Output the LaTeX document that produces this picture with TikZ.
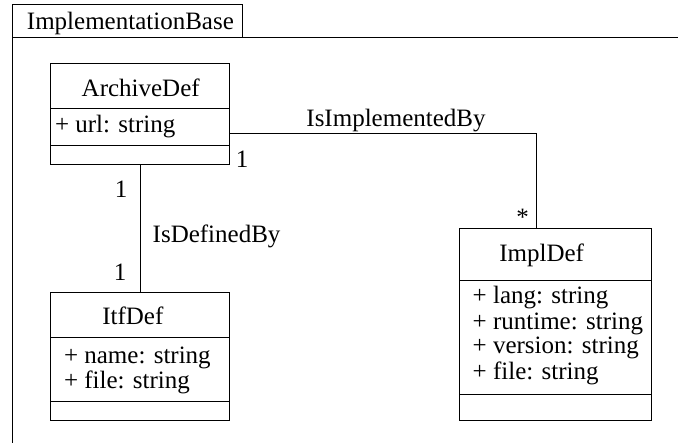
\documentclass[tikz,border=0pt]{standalone}
\usepackage{fontspec}
\setmainfont{Liberation Serif}
\begin{document}
\begin{tikzpicture}[x=1pt,y=-1pt,line width=1pt,
  every node/.style={font=\fontsize{25}{25}\selectfont, inner sep=0pt, outer sep=0pt},
  classbox/.style={draw, line width=1pt, anchor=north west},
  lbl/.style={anchor=base west},
  clbl/.style={anchor=base}]
\useasboundingbox (0,0) rectangle (678,443);
% package frame
\node[draw, anchor=north west, minimum width=229.8pt, minimum height=33pt] (tab) at (12.5,5) {};
\node[clbl] (pkgname) at (130.4,30) {ImplementationBase};
\draw (tab.south west) -- (12.5,443);
\draw (tab.south east) -- (678,38);
% ArchiveDef
\node[classbox, minimum width=178.6pt, minimum height=101.7pt] (archive) at (50.7,63.3) {};
\draw (50.7,108.3) -- (229.3,108.3);
\draw (50.7,145.7) -- (229.3,145.7);
\node[clbl] (archname) at (140.7,96.7) {ArchiveDef};
\node[lbl] (archurl) at (55,132.7) {+ url: string};
% ItfDef
\node[classbox, minimum width=178.6pt, minimum height=127.7pt] (itf) at (50.7,293) {};
\draw (50.7,337.7) -- (229.3,337.7);
\draw (50.7,401.7) -- (229.3,401.7);
\node[clbl] (itfname) at (132.8,325) {ItfDef};
\node[lbl] (itfa) at (64,363.3) {+ name: string};
\node[lbl] (itfb) at (64,388.3) {+ file: string};
% ImplDef
\node[classbox, minimum width=192.4pt, minimum height=192pt] (impl) at (459.3,229) {};
\draw (459.3,281) -- (651.7,281);
\draw (459.3,395) -- (651.7,395);
\node[clbl] (implname) at (541.7,261.7) {ImplDef};
\node[lbl] (impla) at (472.7,304) {+ lang: string};
\node[lbl] (implb) at (472.7,329.3) {+ runtime: string};
\node[lbl] (implc) at (472.7,353.3) {+ version: string};
\node[lbl] (impld) at (472.7,379.3) {+ file: string};
% associations
\draw ([yshift=-19.5pt]archive.east) -| ([xshift=-19.5pt]impl.north);
\node[clbl] (isimpl) at (396,126.7) {IsImplementedBy};
\node[clbl] (m1) at (242,168) {1};
\node[clbl] (m2) at (522.7,226) {*};
\draw (archive.south) -- (itf.north);
\node[lbl] (isdef) at (152.7,242.7) {IsDefinedBy};
\node[clbl] (m3) at (121,198) {1};
\node[clbl] (m4) at (120,281) {1};
\end{tikzpicture}
\end{document}
